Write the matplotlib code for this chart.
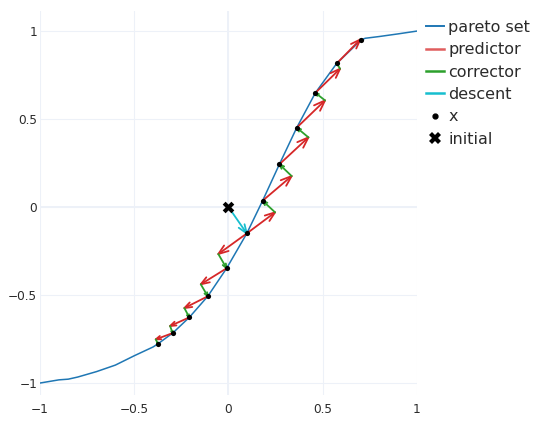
import numpy as np
import matplotlib
matplotlib.use("Agg")
import matplotlib.pyplot as plt
from matplotlib.lines import Line2D

# pareto set (polyline)
pareto_x = [-1.0, -0.9, -0.85, -0.8, -0.7, -0.6, -0.5, -0.4, -0.374, -0.296, -0.208, -0.11,
            -0.01, 0.097, 0.181, 0.27, 0.362, 0.461, 0.574, 0.703, 0.725, 0.8, 0.9, 1.0]
pareto_y = [-1.0, -0.982, -0.978, -0.966, -0.935, -0.898, -0.845, -0.795, -0.777, -0.716, -0.627, -0.507,
            -0.348, -0.15, 0.036, 0.243, 0.451, 0.649, 0.816, 0.949, 0.959, 0.969, 0.984, 1.0]

# initial point
init_x, init_y = 0.0, 0.0

# iterates x (first one is the end of the descent step)
pts_x = [0.097, -0.010, -0.110, -0.208, -0.296, -0.374, 0.181, 0.270, 0.362, 0.461, 0.574, 0.703]
pts_y = [-0.150, -0.348, -0.507, -0.627, -0.716, -0.777, 0.036, 0.243, 0.451, 0.649, 0.816, 0.949]

# predictor steps: start index into pts, tip position
pred_from = [0, 1, 2, 3, 4, 0, 6, 7, 8, 9, 10]
pred_tip_x = [-0.054, -0.147, -0.234, -0.310, -0.386, 0.247, 0.335, 0.424, 0.512, 0.592, 0.699]
pred_tip_y = [-0.267, -0.439, -0.574, -0.676, -0.752, -0.030, 0.176, 0.396, 0.606, 0.786, 0.952]
# corrector steps go from predictor tip to the next iterate
corr_to = [1, 2, 3, 4, 5, 6, 7, 8, 9, 10, 11]

BLUE = "#1f77b4"
RED = "#d62728"
GREEN = "#2ca02c"
CYAN = "#17becf"
TXT = "#2b2b2b"


def quiver(ax, x0, y0, x1, y1, color, scale=0.3, angle=np.pi / 9, lw=1.3):
    # shaft plus two barbs, barbs sized relative to the arrow length
    for a, b, c, d in zip(x0, y0, x1, y1):
        u, v = c - a, d - b
        blen = np.hypot(u, v) * scale
        ang = np.arctan2(v, u)
        p1 = (c - blen * np.cos(ang + angle), d - blen * np.sin(ang + angle))
        p2 = (c - blen * np.cos(ang - angle), d - blen * np.sin(ang - angle))
        ax.plot([a, c], [b, d], color=color, lw=lw, solid_capstyle="round")
        ax.plot([p1[0], c, p2[0]], [p1[1], d, p2[1]], color=color, lw=lw,
                solid_capstyle="round", solid_joinstyle="round")


fig = plt.figure(figsize=(5.34, 4.21), dpi=100)
ax = fig.add_axes([40 / 534, 1 - 395 / 421, 377 / 534, 384 / 421])

ax.set_xlim(-1, 1)
ax.set_ylim(-1.068, 1.114)
for s in ax.spines.values():
    s.set_visible(False)
ax.set_xticks([-1, -0.5, 0, 0.5, 1])
ax.set_xticklabels(["\u22121", "\u22120.5", "0", "0.5", "1"])
ax.set_yticks([-1, -0.5, 0, 0.5, 1])
ax.set_yticklabels(["\u22121", "\u22120.5", "0", "0.5", "1"])
ax.tick_params(length=0, labelsize=8.7, colors=TXT)
ax.tick_params(axis="x", pad=6)
ax.tick_params(axis="y", pad=2)
ax.grid(True, color="#edf1f8", lw=0.8)
ax.axhline(0, color="#ebf0f8", lw=1.2, zorder=0)
ax.axvline(0, color="#ebf0f8", lw=1.2, zorder=0)
ax.set_axisbelow(True)

ax.plot(pareto_x, pareto_y, color=BLUE, lw=1.1)

px = np.array(pts_x)
py = np.array(pts_y)
fi = np.array(pred_from)
ci = np.array(corr_to)
quiver(ax, px[fi], py[fi], pred_tip_x, pred_tip_y, RED)
quiver(ax, pred_tip_x, pred_tip_y, px[ci], py[ci], GREEN)
quiver(ax, [init_x], [init_y], [pts_x[0]], [pts_y[0]], CYAN)

ax.scatter(pts_x, pts_y, s=14, color="black", zorder=5, linewidths=0)
ax.scatter([init_x], [init_y], s=70, marker="X", color="black", zorder=6, linewidths=0)

handles = [
    Line2D([], [], color=BLUE, lw=1.4),
    Line2D([], [], color=RED, lw=1.8, alpha=0.75),
    Line2D([], [], color=GREEN, lw=1.8),
    Line2D([], [], color=CYAN, lw=1.8),
    Line2D([], [], ls="none", marker="o", ms=3.5, color="black"),
    Line2D([], [], ls="none", marker="X", ms=8, color="black", markeredgewidth=0),
]
labels = ["pareto set", "predictor", "corrector", "descent", "x", "initial"]
fig.legend(handles, labels, loc="upper left", bbox_to_anchor=(426 / 534, 1 - 20 / 421),
           frameon=False, fontsize=11.5, handlelength=1.15, handletextpad=0.25,
           labelspacing=0.46, borderpad=0, borderaxespad=0, labelcolor=TXT)

fig.savefig("out.png", dpi=100)
